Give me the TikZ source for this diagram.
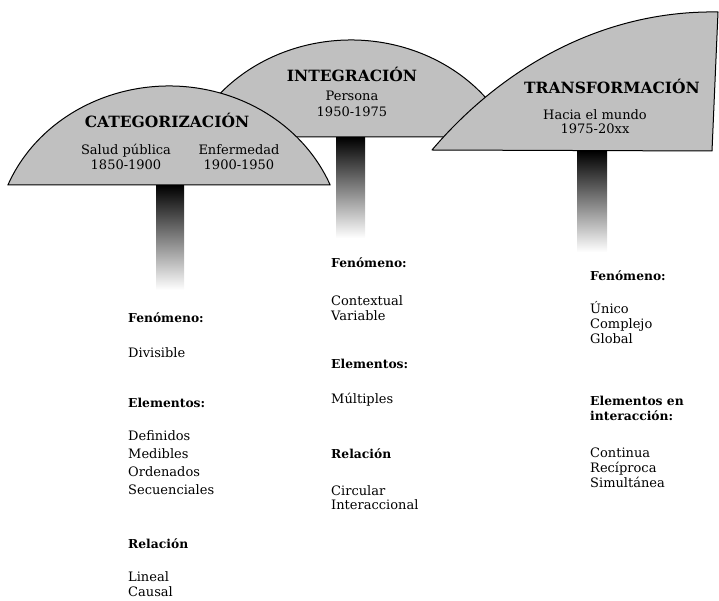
\documentclass[tikz,border=0pt]{standalone}
\usepackage{fontspec}
\setmainfont{DejaVu Serif}
\usepackage{xcolor}
\definecolor{domefill}{HTML}{c0c0c0}

\begin{document}
\begin{tikzpicture}[x=1pt, y=-1pt,
    dome/.style={fill=domefill, draw=black, line width=1pt, line join=round},
    pole/.style={top color=black, middle color=black!55, bottom color=white},
    title/.style={font=\fontsize{15.5}{18}\selectfont\bfseries, anchor=base, inner sep=0pt},
    subtitle/.style={font=\fontsize{13}{15}\selectfont, align=center, anchor=base, inner sep=0pt},
    heading/.style={font=\fontsize{12.3}{15}\selectfont\bfseries, align=left, anchor=base west, inner sep=0pt},
    entry/.style={font=\fontsize{13}{15}\selectfont, align=left, anchor=base west, inner sep=0pt}]
\useasboundingbox (0,0) rectangle (719,601);
\shade[pole] (156,185) rectangle (184,290);
\shade[pole] (336,137) rectangle (365,238);
\shade[pole] (577,151) rectangle (607,252);
\filldraw[dome] (190.2,137) arc[start angle=202.47, end angle=337.53, x radius=174, y radius=157] -- cycle;
\filldraw[dome] (7.9,185) arc[start angle=202.17, end angle=337.83, x radius=174, y radius=159] -- cycle;
\filldraw[dome] (432,150) .. controls (500,70) and (600,10) .. (718,12) -- (712,151) -- cycle;
\node[title] (categorizacion) at (167,128) {CATEGORIZACIÓN};
\node[subtitle] (salud_publica) at (126,170) {Salud pública\\1850-1900};
\node[subtitle] (enfermedad) at (239,170) {Enfermedad\\1900-1950};
\node[title] (integracion) at (352,82) {INTEGRACIÓN};
\node[subtitle, font=\fontsize{13}{16}\selectfont] (persona) at (352,117) {Persona\\1950-1975};
\node[title] (transformacion) at (612,94) {TRANSFORMACIÓN};
\node[subtitle, font=\fontsize{13}{14}\selectfont] (hacia_mundo) at (595,134) {Hacia el mundo\\1975-20xx};
\node[heading] (cat_fenomeno) at (128,322) {Fenómeno:};
\node[entry] (cat_fenomeno_list) at (128,357) {Divisible};
\node[heading] (cat_elementos) at (128,407) {Elementos:};
\node[entry, font=\fontsize{13}{18}\selectfont] (cat_elementos_list) at (128,494) {Definidos\\Medibles\\Ordenados\\Secuenciales};
\node[heading] (cat_relacion) at (128,548) {Relación};
\node[entry, font=\fontsize{13}{15}\selectfont] (cat_relacion_list) at (128,596) {Lineal\\Causal};
\node[heading] (int_fenomeno) at (331,268) {Fenómeno:};
\node[entry] (int_fenomeno_list) at (331,320) {Contextual\\Variable};
\node[heading] (int_elementos) at (331,368) {Elementos:};
\node[entry] (int_elementos_list) at (331,403) {Múltiples};
\node[heading] (int_relacion) at (331,458) {Relación};
\node[entry, font=\fontsize{13}{14}\selectfont] (int_relacion_list) at (331,509) {Circular\\Interaccional};
\node[heading] (tra_fenomeno) at (590,280) {Fenómeno:};
\node[entry] (tra_fenomeno_list) at (590,343) {Único\\Complejo\\Global};
\node[heading] (tra_elementos) at (590,420) {Elementos en\\interacción:};
\node[entry] (tra_elementos_list) at (590,487) {Continua\\Recíproca\\Simultánea};
\end{tikzpicture}
\end{document}
